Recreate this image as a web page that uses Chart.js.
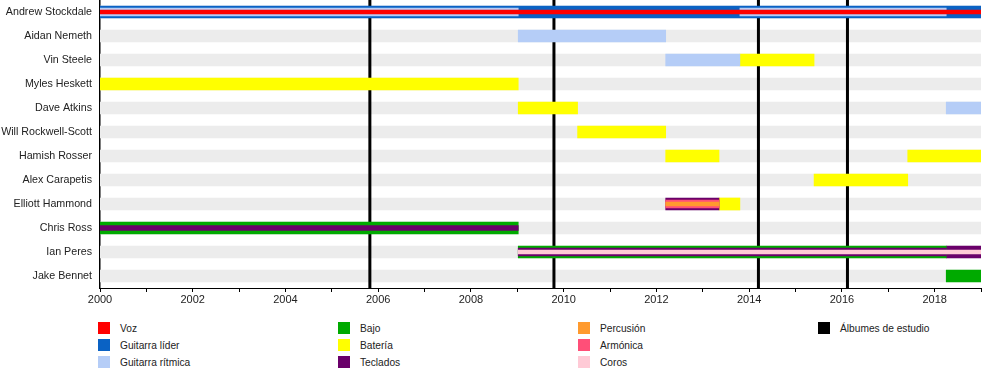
<!DOCTYPE html>
<html>
<head>
<meta charset="utf-8">
<script src="https://cdn.jsdelivr.net/npm/chart.js@4"></script>
<style>
    body { margin: 0; background: #fff; font-family: "Liberation Sans", Arial, sans-serif; }
    #marco { position: relative; width: 1000px; height: 305px; }
    #leyenda {
        position: absolute; left: 98px; top: 322px;
        display: grid; grid-auto-flow: column;
        grid-template-columns: repeat(4, 240px);
        grid-template-rows: repeat(3, 12px);
        row-gap: 5px; font-size: 10.2px; color: #222;
    }
    .item { display: flex; align-items: center; height: 12px; }
    .caja { width: 12px; height: 12px; margin-right: 10px; }
</style>
</head>
<body>
<div id="marco"><canvas id="grafico" width="1000" height="305"></canvas></div>
<div id="leyenda"></div>

<script>
const miembros = ["Andrew Stockdale", "Aidan Nemeth", "Vin Steele", "Myles Heskett", "Dave Atkins", "Will Rockwell-Scott", "Hamish Rosser", "Alex Carapetis", "Elliott Hammond", "Chris Ross", "Ian Peres", "Jake Bennet"];

const inicio = 2000;
const fin = 2019;

// [miembro, desde, hasta]
const guitarraLider = [["Andrew Stockdale", 2000, 2019]];
const bajo = [["Chris Ross", 2000, 2009.02], ["Ian Peres", 2009.02, 2018.25], ["Jake Bennet", 2018.25, 2019]];
const teclados = [["Chris Ross", 2000, 2009.02], ["Ian Peres", 2009.02, 2018.25], ["Ian Peres", 2018.25, 2019], ["Elliott Hammond", 2012.2, 2013.35]];
const guitarraRitmica = [["Andrew Stockdale", 2000, 2009.02], ["Aidan Nemeth", 2009.02, 2012.2], ["Vin Steele", 2012.2, 2013.8], ["Andrew Stockdale", 2013.8, 2018.25], ["Dave Atkins", 2018.25, 2019]];
const bateria = [["Myles Heskett", 2000, 2009.02], ["Dave Atkins", 2009.02, 2010.3], ["Will Rockwell-Scott", 2010.3, 2012.2], ["Hamish Rosser", 2012.2, 2013.35], ["Elliott Hammond", 2013.35, 2013.8], ["Vin Steele", 2013.8, 2015.4], ["Alex Carapetis", 2015.4, 2017.42], ["Hamish Rosser", 2017.42, 2019]];
const armonica = [["Elliott Hammond", 2012.2, 2013.35]];
const voz = [["Andrew Stockdale", 2000, 2019]];
const coros = [["Ian Peres", 2009.02, 2019]];
const percusion = [["Elliott Hammond", 2012.2, 2013.35]];

const albumes = [2005.82, 2009.79, 2014.2, 2016.12];

// orden de dibujo: de abajo hacia arriba
const roles = [
    { nombre: "Guitarra líder", color: "#0a62c4", tramos: guitarraLider },
    { nombre: "Bajo", color: "#00aa00", tramos: bajo },
    { nombre: "Teclados", color: "#6a006a", tramos: teclados },
    { nombre: "Guitarra rítmica", color: "#b5cdf7", tramos: guitarraRitmica },
    { nombre: "Batería", color: "#ffff00", tramos: bateria },
    { nombre: "Armónica", color: "#ff4f78", tramos: armonica },
    { nombre: "Voz", color: "#ff0000", tramos: voz },
    { nombre: "Coros", color: "#ffcad6", tramos: coros },
    { nombre: "Percusión", color: "#ff9a2e", tramos: percusion },
];

const ordenLeyenda = ["Voz", "Guitarra líder", "Guitarra rítmica", "Bajo", "Batería", "Teclados", "Percusión", "Armónica", "Coros"];

const grosores = [[12], [12, 5], [12, 8, 4]];

function solapa(a, b) {
    return a[0] === b[0] && a[1] < b[2] && b[1] < a[2];
}

let datasets = [
    {
        label: "fondo",
        data: miembros.map((m) => ({ x: [inicio, fin], y: m })),
        backgroundColor: "#ececec",
        barThickness: 12,
        grouped: false,
        order: 100,
    },
];

roles.forEach((rol, i) => {
    rol.tramos.forEach((t) => {
        const debajo = roles.slice(0, i).filter((o) => o.tramos.some((u) => solapa(t, u))).length;
        const total = roles.filter((o) => o.tramos.some((u) => solapa(t, u))).length;

        datasets.push({
            label: rol.nombre,
            data: [{ x: [t[1], t[2]], y: t[0] }],
            backgroundColor: rol.color,
            barThickness: grosores[total - 1][debajo],
            grouped: false,
            borderWidth: 0,
            order: 50 - debajo * 10,
        });
    });
});

const lineasAlbum = {
    id: "lineasAlbum",
    afterDatasetDraw(chart, args) {
        if (args.index !== 0) return;
        const { ctx, chartArea, scales } = chart;
        ctx.save();
        ctx.strokeStyle = "#000";
        ctx.lineWidth = 3;
        albumes.forEach((a) => {
            const x = scales.x.getPixelForValue(a);
            ctx.beginPath();
            ctx.moveTo(x, chartArea.top);
            ctx.lineTo(x, chartArea.bottom);
            ctx.stroke();
        });
        ctx.restore();
    },
};

new Chart(document.getElementById("grafico"), {
    type: "bar",
    data: { labels: miembros, datasets: datasets },
    plugins: [lineasAlbum],
    options: {
        indexAxis: "y",
        responsive: false,
        animation: false,
        layout: { padding: { top: 0, left: 0, right: 19, bottom: 0 } },
        plugins: { legend: { display: false }, tooltip: { enabled: false } },
        scales: {
            x: {
                type: "linear",
                min: inicio,
                max: fin,
                afterFit: (s) => { s.height = 17; },
                ticks: {
                    stepSize: 1,
                    autoSkip: false,
                    maxRotation: 0,
                    padding: 1,
                    color: "#222",
                    font: { family: "Liberation Sans", size: 11 },
                    callback: (v) => (v % 2 === 0 ? String(v) : ""),
                },
                grid: { drawOnChartArea: false, drawTicks: true, tickLength: 4, color: "#000" },
                border: { color: "#000", width: 1 },
            },
            y: {
                type: "category",
                afterFit: (s) => {
                    s.width = 100;
                    s.paddingTop = 0;
                    s.paddingBottom = 0;
                },
                ticks: { padding: 8, color: "#222", font: { family: "Liberation Sans", size: 10.7 } },
                grid: { display: false, drawTicks: false },
                border: { color: "#000", width: 1.5 },
            },
        },
    },
});

const leyenda = document.getElementById("leyenda");
ordenLeyenda.concat(["Álbumes de estudio"]).forEach((n) => {
    const rol = roles.find((r) => r.nombre === n);
    const item = document.createElement("div");
    item.className = "item";
    item.innerHTML = `<span class="caja" style="background:${rol ? rol.color : "#000"}"></span>${n}`;
    leyenda.appendChild(item);
});
</script>
</body>
</html>
